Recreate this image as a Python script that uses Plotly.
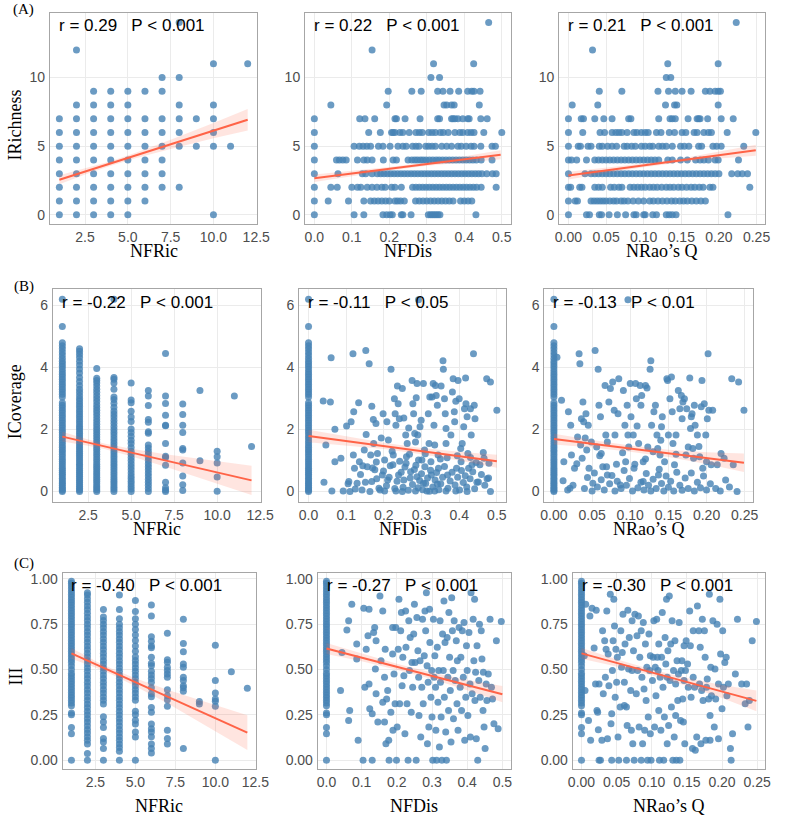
import plotly.graph_objects as go

# ---------------- DATA ----------------
# Row A : IRichness (integer) vs NFRic / NFDis / NRao's Q
A1_cols = {  # NFRic value -> IRichness values
    1: [0, 1, 2, 3, 4, 5, 6, 7],
    2: [0, 1, 2, 3, 4, 5, 6, 7, 8, 12],
    3: [0, 1, 2, 3, 4, 5, 6, 7, 8, 9],
    4: [0, 1, 2, 3, 4, 5, 6, 7, 8, 9],
    5: [0, 1, 2, 3, 4, 5, 6, 7, 8, 9],
    6: [1, 2, 3, 4, 5, 6, 7, 9],
    7: [2, 3, 4, 5, 6, 7, 9, 10],
    8: [2, 5, 6, 7, 8, 10, 14],
    9: [5, 7],
    10: [0, 5, 6, 7, 8, 11],
    11: [5],
    12: [11],
}
A2_rows = {  # IRichness value -> NFDis values
    14: [0.465],
    12: [0.154],
    11: [0.318, 0.425],
    10: [0.311, 0.334],
    9: [0.197, 0.26, 0.285, 0.329, 0.343, 0.362, 0.385, 0.409, 0.42, 0.426, 0.442],
    8: [0.044, 0.193, 0.346, 0.353, 0.366, 0.373, 0.44],
    7: [0.0, 0.121, 0.135, 0.161, 0.215, 0.219, 0.242, 0.282, 0.329, 0.334, 0.366, 0.37, 0.375,
        0.383, 0.396, 0.409, 0.413, 0.444, 0.461],
    6: [0.0, 0.145, 0.176, 0.206, 0.21, 0.215, 0.228, 0.236, 0.253, 0.271, 0.28, 0.288, 0.305,
        0.314, 0.323, 0.336, 0.344, 0.357, 0.375, 0.388, 0.396, 0.409, 0.418, 0.426, 0.452, 0.5],
    5: [0.0, 0.106, 0.12, 0.13, 0.14, 0.15, 0.171, 0.183, 0.202, 0.223, 0.236, 0.245, 0.262,
        0.271, 0.279, 0.297, 0.305, 0.314, 0.323, 0.34, 0.353, 0.366, 0.383, 0.392, 0.405,
        0.418, 0.426, 0.444, 0.474, 0.483],
    4: [0.0, 0.059, 0.067, 0.076, 0.085, 0.115, 0.132, 0.141, 0.154, 0.184, 0.21, 0.219, 0.25,
        0.26, 0.268, 0.275, 0.283, 0.29, 0.298, 0.307, 0.316, 0.325, 0.333, 0.342, 0.351, 0.36,
        0.369, 0.378, 0.387, 0.396, 0.405, 0.414, 0.423, 0.432, 0.445, 0.474],
    3: [0.0, 0.063, 0.128, 0.137, 0.154, 0.168, 0.177, 0.186, 0.195, 0.204, 0.213, 0.222, 0.231,
        0.24, 0.249, 0.258, 0.267, 0.276, 0.285, 0.294, 0.303, 0.312, 0.321, 0.33, 0.339, 0.348,
        0.357, 0.366, 0.375, 0.384, 0.393, 0.402, 0.411, 0.42, 0.429, 0.438, 0.447, 0.46, 0.475,
        0.485],
    2: [0.0, 0.044, 0.061, 0.1, 0.115, 0.124, 0.141, 0.154, 0.167, 0.18, 0.189, 0.206, 0.215,
        0.232, 0.262, 0.271, 0.28, 0.289, 0.298, 0.307, 0.316, 0.325, 0.334, 0.343, 0.352, 0.361,
        0.37, 0.379, 0.388, 0.397, 0.406, 0.415, 0.424, 0.433, 0.445, 0.485],
    1: [0.0, 0.037, 0.091, 0.132, 0.15, 0.16, 0.17, 0.18, 0.19, 0.2, 0.215, 0.222, 0.23, 0.24,
        0.27, 0.28, 0.29, 0.3, 0.31, 0.32, 0.33, 0.34, 0.35, 0.36, 0.37, 0.39, 0.4, 0.41, 0.42],
    0: [0.0, 0.106, 0.132, 0.183, 0.193, 0.202, 0.208, 0.232, 0.236, 0.258, 0.304, 0.31, 0.315,
        0.32, 0.325, 0.33, 0.335, 0.431],
}
A3_rows = {  # IRichness value -> NRao's Q values
    14: [0.223],
    12: [0.032],
    11: [0.132, 0.199],
    10: [0.13, 0.136],
    9: [0.041, 0.071, 0.119, 0.133, 0.142, 0.151, 0.163, 0.182, 0.188, 0.195, 0.199, 0.202],
    8: [0.005, 0.039, 0.129, 0.141, 0.144, 0.199],
    7: [0.0, 0.017, 0.02, 0.035, 0.047, 0.058, 0.08, 0.083, 0.12, 0.135, 0.138, 0.142, 0.159,
        0.171, 0.173, 0.175, 0.185, 0.203, 0.219],
    6: [0.0, 0.019, 0.042, 0.048, 0.058, 0.063, 0.067, 0.071, 0.078, 0.087, 0.091, 0.097, 0.102,
        0.106, 0.117, 0.123, 0.134, 0.141, 0.151, 0.156, 0.167, 0.171, 0.18, 0.186, 0.19, 0.211,
        0.249],
    5: [0.0, 0.013, 0.016, 0.026, 0.03, 0.041, 0.045, 0.052, 0.058, 0.064, 0.074, 0.078, 0.084,
        0.089, 0.097, 0.102, 0.108, 0.112, 0.12, 0.125, 0.13, 0.138, 0.149, 0.154, 0.16, 0.173,
        0.177, 0.192, 0.197, 0.203, 0.233],
    4: [0.0, 0.004, 0.011, 0.024, 0.035, 0.04, 0.045, 0.05, 0.055, 0.06, 0.065, 0.07, 0.075,
        0.08, 0.085, 0.09, 0.095, 0.1, 0.105, 0.11, 0.115, 0.12, 0.132, 0.138, 0.149, 0.158,
        0.169, 0.175, 0.18, 0.186, 0.195, 0.199, 0.226],
    3: [0.0, 0.022, 0.03, 0.035, 0.04, 0.045, 0.05, 0.055, 0.06, 0.065, 0.07, 0.075, 0.08,
        0.085, 0.09, 0.095, 0.1, 0.105, 0.11, 0.115, 0.12, 0.125, 0.13, 0.135, 0.14, 0.145, 0.15,
        0.155, 0.16, 0.165, 0.17, 0.175, 0.18, 0.185, 0.19, 0.195, 0.2, 0.217, 0.225, 0.231,
        0.238],
    2: [0.0, 0.003, 0.015, 0.018, 0.035, 0.04, 0.045, 0.056, 0.061, 0.067, 0.071, 0.082, 0.087,
        0.092, 0.097, 0.102, 0.108, 0.113, 0.118, 0.124, 0.13, 0.135, 0.14, 0.146, 0.151, 0.157,
        0.163, 0.168, 0.174, 0.179, 0.188, 0.192, 0.241],
    1: [0.0, 0.009, 0.012, 0.03, 0.034, 0.038, 0.042, 0.046, 0.05, 0.055, 0.06, 0.064, 0.07,
        0.074, 0.079, 0.086, 0.093, 0.1, 0.108, 0.113, 0.119, 0.125, 0.131, 0.137, 0.142, 0.148,
        0.153, 0.158, 0.164, 0.17, 0.176, 0.182],
    0: [0.0, 0.024, 0.028, 0.041, 0.044, 0.054, 0.065, 0.076, 0.087, 0.09, 0.1, 0.102, 0.112,
        0.117, 0.13, 0.134, 0.138, 0.143, 0.212],
}

# Row B : ICoverage
ICov_single = [0.0, 0.04, 0.09, 0.14, 0.2, 0.26, 0.31, 0.37, 0.43, 0.5, 0.56, 0.62, 0.69, 0.75,
               0.82, 0.9, 0.97, 1.04, 1.12, 1.2, 1.28, 1.35, 1.43, 1.5, 1.58, 1.66, 1.74, 1.82,
               1.9, 1.98, 2.06, 2.14, 2.22, 2.3, 2.38, 2.46, 2.54, 2.62, 2.7, 2.78, 2.86, 3.05,
               3.14, 3.22, 3.3, 3.38, 3.46, 3.54, 3.62, 3.7, 3.78, 3.86, 3.95, 4.04, 4.12, 4.2,
               4.3, 4.4, 4.5, 4.6, 4.7, 4.8, 5.32, 6.2]
B1_cols = {
    1: ICov_single,
    2: [0.0, 0.05, 0.11, 0.17, 0.23, 0.3, 0.36, 0.42, 0.49, 0.55, 0.62, 0.68, 0.75, 0.82, 0.88,
        0.95, 1.02, 1.09, 1.16, 1.23, 1.3, 1.37, 1.44, 1.51, 1.58, 1.66, 1.73, 1.8, 1.88, 1.95,
        2.03, 2.1, 2.18, 2.26, 2.34, 2.42, 2.5, 2.58, 2.66, 2.75, 2.83, 2.92, 3.0, 3.1, 3.2, 3.3,
        3.42, 3.55, 3.68, 3.82, 3.95, 4.08, 4.2, 4.32, 4.43, 4.52, 4.6],
    3: [0.0, 0.06, 0.12, 0.18, 0.25, 0.32, 0.39, 0.46, 0.53, 0.6, 0.67, 0.74, 0.81, 0.88, 0.96,
        1.04, 1.12, 1.2, 1.28, 1.36, 1.44, 1.52, 1.6, 1.68, 1.76, 1.84, 1.92, 2.0, 2.08, 2.17,
        2.26, 2.35, 2.44, 2.53, 2.62, 2.71, 2.8, 2.9, 3.0, 3.1, 3.2, 3.3, 3.4, 3.5, 3.58, 3.65,
        3.97],
    4: [0.0, 0.07, 0.14, 0.21, 0.28, 0.35, 0.42, 0.5, 0.58, 0.66, 0.74, 0.82, 0.9, 0.98, 1.06,
        1.14, 1.22, 1.3, 1.38, 1.46, 1.55, 1.64, 1.73, 1.82, 1.91, 2.0, 2.1, 2.2, 2.3, 2.4, 2.5,
        2.6, 2.72, 2.85, 2.97, 3.05, 3.3, 3.5, 3.62, 3.68, 6.2],
    5: [0.0, 0.08, 0.16, 0.25, 0.33, 0.42, 0.5, 0.6, 0.7, 0.8, 0.9, 1.0, 1.1, 1.2, 1.3, 1.42,
        1.55, 1.65, 1.78, 1.9, 2.02, 2.26, 2.4, 2.59, 2.86, 2.95, 3.5],
    6: [0.0, 0.1, 0.2, 0.3, 0.4, 0.5, 0.6, 0.7, 0.8, 0.9, 1.0, 1.1, 1.2, 1.3, 1.4, 1.5, 1.88,
        1.93, 2.23, 2.32, 2.77, 3.08, 3.26],
    7: [0.0, 0.05, 0.12, 0.3, 0.85, 1.1, 1.14, 1.55, 2.12, 2.14, 2.46, 2.84, 3.08, 4.45],
    8: [0.03, 0.22, 0.5, 0.92, 1.34, 1.39, 1.9, 2.14, 2.48, 2.82],
    9: [0.99, 3.26],
    10: [0.01, 0.47, 0.92, 1.12, 1.3],
    11: [3.08],
    12: [1.45],
}
B2_zero = ICov_single  # sites with NFDis = 0
B2_pts = [
    (0.039, 2.92), (0.058, 2.89), (0.06, 4.31), (0.046, 1.5), (0.07, 2.01), (0.041, 0.3),
    (0.062, 0.02), (0.07, 0.96), (0.086, 1.07), (0.092, 0.02), (0.101, 2.11), (0.113, 2.25),
    (0.118, 4.44), (0.12, 2.57), (0.119, 1.18), (0.122, 0.75), (0.107, 0.32), (0.11, 0.0),
    (0.133, 2.86), (0.135, 0.96), (0.144, 0.83), (0.129, 0.27), (0.142, 0.05), (0.152, 4.55),
    (0.161, 4.12), (0.168, 2.75), (0.153, 1.84), (0.148, 1.34), (0.165, 1.18), (0.156, 0.8),
    (0.172, 2.32), (0.173, 1.55), (0.179, 2.19), (0.183, 1.23), (0.176, 0.7), (0.168, 0.32),
    (0.163, 0.0), (0.193, 1.73), (0.198, 2.51), (0.202, 1.02), (0.196, 0.53), (0.187, 0.11),
    (0.208, 2.25), (0.212, 1.66), (0.217, 0.83), (0.219, 3.94), (0.222, 1.3), (0.21, 0.37),
    (0.202, 0.02), (0.228, 2.99), (0.23, 2.51), (0.232, 2.14), (0.236, 3.4), (0.238, 2.83),
    (0.241, 2.35), (0.242, 0.98), (0.239, 0.53), (0.232, 0.02), (0.249, 3.32), (0.253, 2.37),
    (0.258, 1.82), (0.262, 1.55), (0.259, 0.91), (0.253, 0.37), (0.249, 0.0), (0.266, 2.05),
    (0.268, 1.2), (0.271, 0.64), (0.275, 3.58), (0.277, 2.83), (0.279, 2.51), (0.282, 1.87),
    (0.284, 1.6), (0.286, 3.02), (0.288, 3.48), (0.29, 1.82), (0.292, 1.02), (0.288, 0.48),
    (0.284, 0.02), (0.296, 2.09), (0.299, 2.3), (0.301, 1.02), (0.305, 3.48), (0.308, 1.34),
    (0.309, 0.8), (0.305, 0.27), (0.314, 0.02), (0.318, 2.51), (0.32, 1.55), (0.322, 3.05),
    (0.325, 0.96), (0.326, 0.53), (0.328, 3.05), (0.331, 3.48), (0.333, 2.14), (0.335, 1.5),
    (0.337, 3.42), (0.339, 3.1), (0.342, 2.78), (0.344, 1.18), (0.345, 0.75), (0.342, 0.24),
    (0.335, 0.02), (0.352, 3.4), (0.357, 4.22), (0.358, 3.94), (0.361, 2.99), (0.363, 2.51),
    (0.365, 2.03), (0.365, 1.55), (0.368, 1.09), (0.369, 0.53), (0.365, 0.02), (0.378, 1.82),
    (0.382, 3.21), (0.384, 3.64), (0.387, 2.57), (0.388, 2.25), (0.391, 2.91), (0.393, 0.75),
    (0.391, 0.02), (0.397, 3.58), (0.4, 2.99), (0.404, 1.39), (0.405, 0.96), (0.408, 1.55),
    (0.412, 2.09), (0.414, 2.67), (0.417, 3.66), (0.418, 2.83), (0.421, 2.41), (0.423, 1.23),
    (0.425, 0.75), (0.421, 0.0), (0.43, 2.67), (0.432, 1.82), (0.434, 0.86), (0.438, 4.44),
    (0.44, 2.78), (0.442, 2.35), (0.445, 0.94), (0.447, 0.3), (0.455, 0.86), (0.464, 1.26),
    (0.466, 1.07), (0.473, 3.64), (0.474, 0.41), (0.479, 0.91), (0.483, 0.0), (0.483, 3.53),
    (0.5, 2.62), (0.292, 6.18),
    (0.105, 0.25), (0.124, 0.08), (0.138, 0.55), (0.151, 0.3), (0.17, 0.76), (0.181, 0.41),
    (0.19, 0.05), (0.199, 0.66), (0.207, 0.19), (0.214, 0.46), (0.224, 0.86), (0.229, 0.1),
    (0.235, 0.33), (0.246, 0.62), (0.251, 0.14), (0.256, 0.79), (0.265, 0.04), (0.27, 0.44),
    (0.276, 0.23), (0.281, 0.71), (0.291, 0.12), (0.295, 0.36), (0.3, 0.57), (0.303, 0.06),
    (0.311, 0.26), (0.316, 0.44), (0.321, 0.01), (0.324, 0.69), (0.33, 0.15), (0.336, 0.37),
    (0.34, 0.61), (0.346, 0.06), (0.351, 0.25), (0.356, 0.46), (0.361, 0.81), (0.37, 0.11),
    (0.376, 0.34), (0.381, 0.62), (0.389, 0.21), (0.396, 0.46), (0.401, 0.05), (0.406, 0.68),
    (0.411, 0.29), (0.416, 0.51), (0.42, 0.15), (0.429, 0.41), (0.436, 0.64), (0.441, 0.09),
    (0.451, 0.31), (0.459, 0.55), (0.468, 0.2), (0.478, 0.44), (0.26, 1.12), (0.31, 1.22),
    (0.35, 1.05), (0.395, 1.15), (0.225, 1.18), (0.18, 0.95), (0.43, 1.1), (0.285, 0.85),
]
B3_zero = ICov_single  # sites with NRao's Q = 0
B3_pts = [
    (0.004, 4.33), (0.01, 2.94), (0.013, 0.96), (0.019, 2.57), (0.022, 2.14), (0.023, 1.18),
    (0.021, 0.11), (0.027, 0.75), (0.031, 1.76), (0.033, 4.44), (0.034, 4.12), (0.036, 2.35),
    (0.037, 1.07), (0.038, 2.89), (0.039, 2.25), (0.041, 1.73), (0.042, 2.51), (0.043, 1.34),
    (0.045, 2.14), (0.046, 0.75), (0.049, 1.6), (0.051, 0.27), (0.054, 4.55), (0.056, 1.44),
    (0.058, 3.94), (0.059, 2.78), (0.061, 2.41), (0.062, 1.23), (0.064, 0.8), (0.067, 3.42),
    (0.068, 1.82), (0.07, 0.53), (0.072, 2.89), (0.074, 3.32), (0.077, 3.53), (0.079, 2.62),
    (0.08, 1.82), (0.082, 0.88), (0.084, 2.51), (0.085, 3.64), (0.087, 0.21), (0.091, 3.26),
    (0.093, 2.14), (0.094, 0.96), (0.096, 2.78), (0.097, 1.82), (0.098, 1.44), (0.1, 3.48),
    (0.101, 2.41), (0.104, 1.82), (0.105, 0.75), (0.107, 3.48), (0.108, 2.99), (0.109, 2.11),
    (0.111, 1.55), (0.113, 3.42), (0.114, 2.78), (0.115, 3.1), (0.117, 0.96), (0.117, 0.32),
    (0.12, 3.42), (0.122, 3.34), (0.123, 1.44), (0.126, 3.94), (0.127, 4.22), (0.128, 2.14),
    (0.13, 1.28), (0.131, 2.57), (0.133, 2.78), (0.135, 1.82), (0.136, 1.39), (0.137, 0.53),
    (0.139, 1.18), (0.141, 2.09), (0.142, 2.41), (0.145, 0.96), (0.148, 3.64), (0.149, 3.58),
    (0.15, 1.82), (0.152, 2.99), (0.154, 3.69), (0.155, 2.57), (0.156, 1.55), (0.158, 0.86),
    (0.16, 1.82), (0.163, 3.26), (0.165, 2.67), (0.167, 3.1), (0.168, 2.35), (0.169, 2.89),
    (0.171, 2.99), (0.173, 1.18), (0.174, 2.67), (0.176, 1.44), (0.178, 3.66), (0.179, 2.03),
    (0.18, 2.41), (0.181, 2.51), (0.182, 1.39), (0.183, 1.07), (0.184, 2.78), (0.185, 2.14),
    (0.188, 1.82), (0.191, 1.12), (0.193, 2.73), (0.194, 3.58), (0.195, 0.75), (0.197, 2.83),
    (0.199, 1.82), (0.2, 0.96), (0.201, 2.35), (0.202, 4.44), (0.203, 2.62), (0.206, 0.86),
    (0.208, 2.62), (0.214, 0.86), (0.219, 1.23), (0.223, 1.07), (0.225, 0.37), (0.233, 3.64),
    (0.235, 0.86), (0.24, 0.0), (0.242, 3.53), (0.249, 2.62), (0.097, 6.18),
    (0.012, 0.35), (0.018, 0.05), (0.025, 0.2), (0.03, 0.9), (0.04, 0.1), (0.044, 0.45),
    (0.05, 0.02), (0.053, 0.6), (0.057, 0.15), (0.062, 0.38), (0.066, 0.05), (0.069, 0.8),
    (0.073, 0.25), (0.076, 0.52), (0.08, 0.02), (0.083, 0.33), (0.088, 0.1), (0.092, 0.68),
    (0.095, 0.2), (0.099, 0.42), (0.103, 0.02), (0.106, 0.88), (0.11, 0.12), (0.114, 0.3),
    (0.118, 0.05), (0.121, 0.58), (0.124, 0.2), (0.127, 0.02), (0.13, 0.4), (0.134, 0.1),
    (0.138, 0.72), (0.141, 0.26), (0.144, 0.02), (0.147, 0.5), (0.15, 0.14), (0.153, 0.33),
    (0.157, 0.02), (0.161, 0.62), (0.165, 0.2), (0.168, 0.04), (0.172, 0.44), (0.176, 0.1),
    (0.18, 0.6), (0.184, 0.02), (0.188, 0.3), (0.192, 0.12), (0.196, 0.5), (0.2, 0.05),
    (0.205, 0.25), (0.212, 0.1), (0.218, 0.02), (0.23, 0.15), (0.06, 1.15), (0.09, 1.25),
    (0.12, 1.05), (0.16, 1.2), (0.035, 1.5), (0.07, 1.6), (0.14, 1.65), (0.19, 1.45),
]

# Row C : III
III_single = [0.0, 0.146, 0.18, 0.25, 0.26, 0.3, 0.315, 0.33, 0.345, 0.36, 0.375, 0.39, 0.405,
              0.42, 0.435, 0.45, 0.465, 0.48, 0.5, 0.52, 0.54, 0.555, 0.57, 0.585, 0.6, 0.615,
              0.63, 0.645, 0.66, 0.675, 0.69, 0.705, 0.72, 0.735, 0.75, 0.765, 0.78, 0.795,
              0.81, 0.825, 0.84, 0.855, 0.87, 0.885, 0.9, 0.915, 0.93, 0.945, 0.96, 0.975, 0.987]
C1_cols = {
    1: III_single,
    2: [0.0, 0.037, 0.09, 0.11, 0.13, 0.15, 0.17, 0.19, 0.21, 0.23, 0.25, 0.27, 0.29, 0.31,
        0.33, 0.35, 0.37, 0.39, 0.41, 0.43, 0.45, 0.47, 0.49, 0.51, 0.53, 0.55, 0.57, 0.59,
        0.61, 0.63, 0.65, 0.67, 0.69, 0.71, 0.73, 0.75, 0.77, 0.79, 0.81, 0.83, 0.85, 0.87,
        0.89, 0.91, 0.923],
    3: [0.0, 0.064, 0.1, 0.12, 0.18, 0.21, 0.24, 0.31, 0.33, 0.35, 0.37, 0.39, 0.41, 0.43,
        0.45, 0.47, 0.49, 0.51, 0.53, 0.55, 0.57, 0.59, 0.61, 0.63, 0.65, 0.67, 0.69, 0.71,
        0.73, 0.75, 0.77, 0.79, 0.83],
    4: [0.0, 0.05, 0.07, 0.09, 0.11, 0.13, 0.15, 0.17, 0.19, 0.21, 0.23, 0.25, 0.27, 0.29,
        0.31, 0.33, 0.35, 0.37, 0.39, 0.41, 0.43, 0.45, 0.47, 0.49, 0.51, 0.53, 0.55, 0.57,
        0.59, 0.61, 0.63, 0.65, 0.67, 0.69, 0.71, 0.73, 0.75, 0.78, 0.83, 0.91],
    5: [0.0, 0.128, 0.155, 0.2, 0.22, 0.25, 0.27, 0.33, 0.35, 0.37, 0.39, 0.41, 0.43, 0.45,
        0.47, 0.49, 0.51, 0.53, 0.55, 0.57, 0.6, 0.63, 0.66, 0.69, 0.72, 0.75, 0.78, 0.82, 0.88],
    6: [0.04, 0.064, 0.09, 0.13, 0.155, 0.174, 0.2, 0.265, 0.29, 0.35, 0.366, 0.4, 0.43, 0.45,
        0.47, 0.49, 0.52, 0.534, 0.567, 0.62, 0.63, 0.655, 0.68, 0.795, 0.856],
    7: [0.09, 0.12, 0.165, 0.298, 0.333, 0.356, 0.388, 0.457, 0.475, 0.494, 0.512, 0.54, 0.554, 0.70],
    8: [0.064, 0.38, 0.4, 0.41, 0.439, 0.457, 0.512, 0.53, 0.598, 0.643, 0.777],
    9: [0.31, 0.324],
    10: [0.0, 0.298, 0.325, 0.338, 0.371, 0.44, 0.634],
    11: [0.488],
    12: [0.397],
}
C2_zero = III_single
C2_pts = [
    (0.04, 0.384), (0.044, 0.594), (0.063, 0.219), (0.066, 0.274), (0.058, 0.718), (0.063, 0.768),
    (0.072, 0.859), (0.086, 0.64), (0.09, 0.11), (0.086, 0.558), (0.104, 0.0), (0.109, 0.402),
    (0.106, 0.837), (0.121, 0.832), (0.118, 0.686), (0.113, 0.612), (0.121, 0.42), (0.123, 0.283),
    (0.13, 0.256), (0.13, 0.0), (0.137, 0.731), (0.134, 0.704), (0.141, 0.658), (0.139, 0.503),
    (0.141, 0.366), (0.146, 0.21), (0.152, 0.905), (0.155, 0.548), (0.16, 0.823), (0.165, 0.457),
    (0.16, 0.32), (0.165, 0.21), (0.167, 0.612), (0.169, 0.091), (0.171, 0.338), (0.174, 0.384),
    (0.177, 0.11), (0.178, 0.0), (0.183, 0.265), (0.188, 0.585), (0.189, 0.165), (0.188, 0.731),
    (0.192, 0.475), (0.195, 0.311), (0.197, 0.731), (0.199, 0.0), (0.201, 0.183), (0.204, 0.612),
    (0.206, 0.887), (0.208, 0.311), (0.211, 0.713), (0.213, 0.814), (0.215, 0.411), (0.217, 0.567),
    (0.22, 0.466), (0.223, 0.146), (0.225, 0.823), (0.226, 0.622), (0.229, 0.311), (0.232, 0.0),
    (0.234, 0.768), (0.236, 0.494), (0.238, 0.676), (0.241, 0.265), (0.243, 0.539), (0.245, 0.402),
    (0.248, 0.695), (0.25, 0.859), (0.252, 0.539), (0.255, 0.0), (0.257, 0.786), (0.26, 0.603),
    (0.262, 0.457), (0.263, 0.247), (0.266, 0.548), (0.268, 0.128), (0.271, 0.402), (0.273, 0.777),
    (0.275, 0.311), (0.278, 0.576), (0.28, 0.823), (0.282, 0.713), (0.284, 0.923), (0.286, 0.521),
    (0.287, 0.091), (0.289, 0.43), (0.291, 0.183), (0.293, 0.832), (0.294, 0.649), (0.297, 0.347),
    (0.299, 0.494), (0.3, 0.238), (0.302, 0.0), (0.304, 0.777), (0.306, 0.457), (0.308, 0.576),
    (0.31, 0.402), (0.311, 0.165), (0.313, 0.0), (0.315, 0.622), (0.317, 0.32), (0.319, 0.494),
    (0.321, 0.073), (0.323, 0.768), (0.324, 0.43), (0.326, 0.238), (0.328, 0.0), (0.33, 0.695),
    (0.332, 0.494), (0.334, 0.878), (0.335, 0.347), (0.337, 0.649), (0.339, 0.155), (0.341, 0.0),
    (0.343, 0.676), (0.345, 0.457), (0.347, 0.274), (0.348, 0.814), (0.35, 0.567), (0.352, 0.384),
    (0.354, 0.101), (0.356, 0.896), (0.358, 0.713), (0.36, 0.494), (0.361, 0.229), (0.363, 0.768),
    (0.366, 0.439), (0.369, 0.658), (0.371, 0.311), (0.372, 0.548), (0.374, 0.165), (0.377, 0.731),
    (0.38, 0.402), (0.382, 0.567), (0.384, 0.274), (0.386, 0.713), (0.389, 0.457), (0.391, 0.759),
    (0.393, 0.11), (0.396, 0.347), (0.398, 0.631), (0.4, 0.494), (0.402, 0.247), (0.405, 0.704),
    (0.408, 0.42), (0.409, 0.128), (0.411, 0.923), (0.414, 0.366), (0.417, 0.777), (0.419, 0.548),
    (0.421, 0.887), (0.422, 0.329), (0.424, 0.485), (0.426, 0.119), (0.428, 0.631), (0.43, 0.0),
    (0.433, 0.439), (0.435, 0.75), (0.437, 0.347), (0.44, 0.713), (0.442, 0.558), (0.445, 0.274),
    (0.446, 0.485), (0.448, 0.183), (0.451, 0.064), (0.454, 0.42), (0.456, 0.329), (0.46, 0.475),
    (0.465, 0.777), (0.469, 0.402), (0.472, 0.338), (0.476, 0.201), (0.483, 0.658), (0.488, 0.174),
    (0.497, 0.764),
]
C3_zero = III_single
C3_pts = [
    (0.004, 0.576), (0.005, 0.384), (0.006, 0.859), (0.01, 0.219), (0.012, 0.795), (0.013, 0.11),
    (0.015, 0.837), (0.018, 0.618), (0.02, 0.42), (0.021, 0.826), (0.022, 0.274), (0.023, 0.265),
    (0.025, 0.0), (0.025, 0.42), (0.024, 0.168),
    (0.027, 0.0), (0.029, 0.11), (0.03, 0.713), (0.031, 0.366), (0.033, 0.658), (0.034, 0.457),
    (0.035, 0.612), (0.036, 0.823), (0.037, 0.119), (0.038, 0.585), (0.039, 0.411), (0.041, 0.914),
    (0.042, 0.201), (0.043, 0.0), (0.043, 0.256), (0.044, 0.494), (0.045, 0.658), (0.046, 0.887),
    (0.047, 0.74), (0.048, 0.347),
    (0.049, 0.612), (0.05, 0.43), (0.051, 0.567), (0.052, 0.128), (0.053, 0.0), (0.055, 0.293),
    (0.056, 0.713), (0.057, 0.512), (0.058, 0.594), (0.059, 0.804), (0.061, 0.302), (0.061, 0.43),
    (0.062, 0.64), (0.064, 0.0), (0.064, 0.293), (0.065, 0.192), (0.066, 0.826), (0.067, 0.503),
    (0.068, 0.676), (0.07, 0.384), (0.071, 0.165),
    (0.072, 0.768), (0.072, 0.494), (0.073, 0.091), (0.074, 0.603), (0.075, 0.0), (0.076, 0.804),
    (0.078, 0.366), (0.079, 0.686), (0.08, 0.494), (0.081, 0.795), (0.082, 0.183), (0.083, 0.567),
    (0.085, 0.713), (0.085, 0.0), (0.086, 0.457), (0.087, 0.091), (0.088, 0.759), (0.089, 0.393),
    (0.09, 0.165), (0.091, 0.64), (0.092, 0.329), (0.093, 0.512),
    (0.094, 0.0), (0.095, 0.238), (0.096, 0.695), (0.097, 0.494), (0.098, 0.146), (0.098, 0.576),
    (0.099, 0.0), (0.101, 0.439), (0.102, 0.567), (0.103, 0.768), (0.104, 0.183), (0.105, 0.512),
    (0.106, 0.356), (0.107, 0.777), (0.108, 0.567), (0.109, 0.494), (0.11, 0.274), (0.11, 0.64),
    (0.111, 0.0), (0.112, 0.457), (0.113, 0.165), (0.114, 0.567), (0.115, 0.814), (0.116, 0.402),
    (0.117, 0.0), (0.118, 0.238), (0.119, 0.676), (0.12, 0.53), (0.121, 0.887), (0.122, 0.091),
    (0.122, 0.457), (0.123, 0.603), (0.124, 0.192), (0.125, 0.905), (0.126, 0.439), (0.127, 0.64),
    (0.128, 0.293), (0.129, 0.768), (0.13, 0.0), (0.131, 0.494), (0.132, 0.128), (0.133, 0.658),
    (0.134, 0.42), (0.134, 0.247), (0.135, 0.0), (0.136, 0.548), (0.137, 0.329), (0.138, 0.475),
    (0.139, 0.759),
    (0.14, 0.0), (0.141, 0.219), (0.142, 0.494), (0.143, 0.548), (0.144, 0.338), (0.145, 0.21),
    (0.146, 0.631), (0.146, 0.439), (0.147, 0.091), (0.148, 0.494), (0.149, 0.658), (0.151, 0.53),
    (0.152, 0.402), (0.154, 0.823), (0.155, 0.631), (0.156, 0.347), (0.158, 0.064), (0.159, 0.713),
    (0.159, 0.457), (0.161, 0.402), (0.162, 0.055),
    (0.164, 0.128), (0.165, 0.85), (0.167, 0.713), (0.168, 0.42), (0.169, 0.622), (0.17, 0.091),
    (0.171, 0.384), (0.172, 0.777), (0.173, 0.329), (0.175, 0.713), (0.176, 0.567), (0.177, 0.11),
    (0.178, 0.402), (0.179, 0.448), (0.181, 0.338), (0.182, 0.914), (0.183, 0.11), (0.183, 0.247),
    (0.184, 0.512), (0.185, 0.356),
    (0.187, 0.768), (0.189, 0.183), (0.19, 0.503), (0.191, 0.338), (0.193, 0.75), (0.195, 0.119),
    (0.195, 0.42), (0.197, 0.887), (0.198, 0.585), (0.2, 0.283), (0.201, 0.713), (0.202, 0.402),
    (0.204, 0.539), (0.206, 0.567), (0.207, 0.356),
    (0.209, 0.42), (0.212, 0.064), (0.213, 0.0), (0.215, 0.146), (0.219, 0.475), (0.222, 0.777),
    (0.228, 0.42), (0.233, 0.311), (0.235, 0.42), (0.237, 0.183), (0.239, 0.329), (0.243, 0.658),
    (0.249, 0.764),
]

# Fitted lines (linear regression) with half-width of the 95% band
FIT = {
    'A1': dict(x=[1, 2.5, 4, 5.5, 7.5, 10, 12], y=[2.55, 3.15, 3.74, 4.34, 5.13, 6.13, 6.92],
               hw=[0.33, 0.22, 0.17, 0.2, 0.33, 0.55, 0.78]),
    'A2': dict(x=[0, 0.1, 0.2, 0.3, 0.4, 0.497], y=[2.67, 3.01, 3.35, 3.70, 4.04, 4.37],
               hw=[0.27, 0.19, 0.13, 0.12, 0.2, 0.33]),
    'A3': dict(x=[0, 0.05, 0.1, 0.15, 0.2, 0.249], y=[2.86, 3.23, 3.60, 3.97, 4.35, 4.71],
               hw=[0.28, 0.19, 0.13, 0.14, 0.24, 0.4]),
    'B1': dict(x=[1, 2.5, 3.5, 5, 7, 9.5, 12], y=[1.77, 1.58, 1.45, 1.26, 1.0, 0.68, 0.36],
               hw=[0.16, 0.1, 0.09, 0.12, 0.2, 0.33, 0.47]),
    'B2': dict(x=[0, 0.1, 0.2, 0.3, 0.4, 0.5], y=[1.79, 1.63, 1.47, 1.30, 1.14, 0.98],
               hw=[0.2, 0.14, 0.1, 0.1, 0.14, 0.21]),
    'B3': dict(x=[0, 0.05, 0.1, 0.15, 0.2, 0.249], y=[1.69, 1.54, 1.385, 1.23, 1.08, 0.93],
               hw=[0.17, 0.12, 0.1, 0.12, 0.19, 0.3]),
    'C1': dict(x=[1, 2.5, 3.5, 5, 7, 9.5, 12], y=[0.589, 0.529, 0.49, 0.43, 0.351, 0.251, 0.152],
               hw=[0.03, 0.018, 0.016, 0.022, 0.037, 0.066, 0.096]),
    'C2': dict(x=[0, 0.1, 0.2, 0.3, 0.4, 0.5], y=[0.616, 0.566, 0.515, 0.465, 0.414, 0.364],
               hw=[0.03, 0.021, 0.016, 0.018, 0.028, 0.045]),
    'C3': dict(x=[0, 0.05, 0.1, 0.15, 0.2, 0.249], y=[0.589, 0.536, 0.484, 0.431, 0.379, 0.327],
               hw=[0.03, 0.02, 0.016, 0.022, 0.036, 0.057]),
}

STATS = {
    'A1': 'r = 0.29   P < 0.001', 'A2': 'r = 0.22   P < 0.001', 'A3': 'r = 0.21   P < 0.001',
    'B1': 'r = -0.22   P < 0.001', 'B2': 'r = -0.11   P < 0.05', 'B3': 'r = -0.13   P < 0.01',
    'C1': 'r = -0.40   P < 0.001', 'C2': 'r = -0.27   P < 0.001', 'C3': 'r = -0.30   P < 0.001',
}
X_TITLES = ['NFRic', 'NFDis', 'NRao\u2019s Q']
Y_TITLES = ['IRichness', 'ICoverage', 'III']
ROW_TAGS = ['(A)', '(B)', '(C)']

XT_RIC = [2.5, 5, 7.5, 10, 12.5]
XL_RIC = ['2.5', '5.0', '7.5', '10.0', '12.5']
XT_DIS = [0, 0.1, 0.2, 0.3, 0.4, 0.5]
XL_DIS = ['0.0', '0.1', '0.2', '0.3', '0.4', '0.5']
XT_RAO = [0, 0.05, 0.1, 0.15, 0.2, 0.25]
XL_RAO = ['0.00', '0.05', '0.10', '0.15', '0.20', '0.25']
YT_A = [0, 5, 10]
YL_A = ['0', '5', '10']
YT_B = [0, 2, 4, 6]
YL_B = ['0', '2', '4', '6']
YT_C = [0, 0.25, 0.5, 0.75, 1.0]
YL_C = ['0.00', '0.25', '0.50', '0.75', '1.00']


# ---------------- helpers ----------------
def from_cols(cols):
    xs, ys = [], []
    for k, vals in cols.items():
        xs += [k] * len(vals)
        ys += list(vals)
    return xs, ys


def from_rows(rows):
    xs, ys = [], []
    for k, vals in rows.items():
        xs += list(vals)
        ys += [k] * len(vals)
    return xs, ys


def from_pts(pts, zero_col):
    xs = [0.0] * len(zero_col) + [p[0] for p in pts]
    ys = list(zero_col) + [p[1] for p in pts]
    return xs, ys


DATA = {
    'A1': from_cols(A1_cols), 'A2': from_rows(A2_rows), 'A3': from_rows(A3_rows),
    'B1': from_cols(B1_cols), 'B2': from_pts(B2_pts, B2_zero), 'B3': from_pts(B3_pts, B3_zero),
    'C1': from_cols(C1_cols), 'C2': from_pts(C2_pts, C2_zero), 'C3': from_pts(C3_pts, C3_zero),
}

# ---------------- layout ----------------
W, H = 787, 819
BOX = {  # pixel boxes: left, top, right, bottom
    'A1': (46, 11, 258, 223), 'A2': (307, 11, 518, 223), 'A3': (567, 11, 778, 223),
    'B1': (49, 288, 262, 501), 'B2': (301, 288, 513, 501), 'B3': (552, 288, 766, 501),
    'C1': (59, 572, 257, 769), 'C2': (320, 572, 518, 769), 'C3': (581, 572, 778, 769),
}
XR = {'1': [0.45, 12.55], '2': [-0.025, 0.525], '3': [-0.0125, 0.2615]}
YR = {'A': [-0.7, 14.7], 'B': [-0.33, 6.52], 'C': [-0.049, 1.034]}
XTK = {'1': (XT_RIC, XL_RIC), '2': (XT_DIS, XL_DIS), '3': (XT_RAO, XL_RAO)}
YTK = {'A': (YT_A, YL_A), 'B': (YT_B, YL_B), 'C': (YT_C, YL_C)}

SANS = 'Liberation Sans, Arial, sans-serif'
SERIF = 'Liberation Serif, Times New Roman, serif'
POINT = '#4682B4'
LINE = '#FF6347'

fig = go.Figure()
annotations = []
order = ['A1', 'A2', 'A3', 'B1', 'B2', 'B3', 'C1', 'C2', 'C3']
layout_axes = {}
for i, key in enumerate(order):
    n = i + 1
    xa = 'x' if n == 1 else f'x{n}'
    ya = 'y' if n == 1 else f'y{n}'
    row, col = key[0], key[1]
    l, t, r, b = BOX[key]
    xs, ys = DATA[key]
    fig.add_trace(go.Scatter(x=xs, y=ys, mode='markers', xaxis=xa, yaxis=ya,
                             marker=dict(color=POINT, size=7, opacity=0.8, line=dict(width=0)),
                             hoverinfo='skip', showlegend=False))
    f = FIT[key]
    hi = [yv + h for yv, h in zip(f['y'], f['hw'])]
    lo = [yv - h for yv, h in zip(f['y'], f['hw'])]
    fig.add_trace(go.Scatter(x=f['x'] + f['x'][::-1], y=hi + lo[::-1],
                             mode='lines', fill='toself', fillcolor='rgba(255,99,71,0.17)',
                             line=dict(width=0), xaxis=xa, yaxis=ya,
                             hoverinfo='skip', showlegend=False))
    fig.add_trace(go.Scatter(x=[f['x'][0], f['x'][-1]], y=[f['y'][0], f['y'][-1]], mode='lines',
                             xaxis=xa, yaxis=ya, line=dict(color=LINE, width=2),
                             hoverinfo='skip', showlegend=False))
    tv, tl = XTK[col]
    yv, yl = YTK[row]
    axis_common = dict(showline=True, mirror=True, linecolor='#A6A6A6', linewidth=1,
                       showgrid=True, gridcolor='#EBEBEB', gridwidth=0.7, zeroline=False,
                       ticks='', tickfont=dict(family=SANS, size=14, color='#4D4D4D'))
    layout_axes['xaxis' if n == 1 else f'xaxis{n}'] = dict(
        domain=[l / W, r / W], anchor=ya, range=XR[col], tickvals=tv, ticktext=tl,
        ticklabelstandoff=0, **axis_common)
    layout_axes['yaxis' if n == 1 else f'yaxis{n}'] = dict(
        domain=[1 - b / H, 1 - t / H], anchor=xa, range=YR[row], tickvals=yv, ticktext=yl,
        ticklabelstandoff=1, **axis_common)
    # statistics label
    annotations.append(dict(text=STATS[key].replace(' ', '\u00a0'), x=(l + 7) / W,
                            y=1 - (t + 13) / H, xref='paper', yref='paper', xanchor='left',
                            yanchor='middle', showarrow=False,
                            font=dict(family=SANS, size=17, color='black')))
    # x title
    off = 37 if row == 'C' else 27
    annotations.append(dict(text=X_TITLES[int(col) - 1], x=(l + r) / 2 / W,
                            y=1 - (b + off) / H, xref='paper', yref='paper', xanchor='center',
                            yanchor='middle', showarrow=False,
                            font=dict(family=SERIF, size=18, color='black')))

ROW_TOP = {'A': 11, 'B': 288, 'C': 572}
ROW_BOT = {'A': 223, 'B': 501, 'C': 769}
TAG_Y = {'A': 8, 'B': 285, 'C': 563}
for j, row in enumerate(['A', 'B', 'C']):
    annotations.append(dict(text=Y_TITLES[j], x=(10 if row != 'C' else 11) / W,
                            y=1 - ((ROW_TOP[row] + ROW_BOT[row]) / 2 + 6) / H,
                            xref='paper', yref='paper', xanchor='center', yanchor='middle',
                            textangle=-90, showarrow=False,
                            font=dict(family=SERIF, size=18, color='black')))
    annotations.append(dict(text=ROW_TAGS[j], x=19 / W, y=1 - TAG_Y[row] / H, xref='paper',
                            yref='paper', xanchor='center', yanchor='middle', showarrow=False,
                            font=dict(family=SERIF, size=15, color='black')))

fig.update_layout(width=W, height=H, margin=dict(l=0, r=0, t=0, b=0),
                  paper_bgcolor='white', plot_bgcolor='white', annotations=annotations,
                  showlegend=False, **layout_axes)
fig.write_html('out.html')
